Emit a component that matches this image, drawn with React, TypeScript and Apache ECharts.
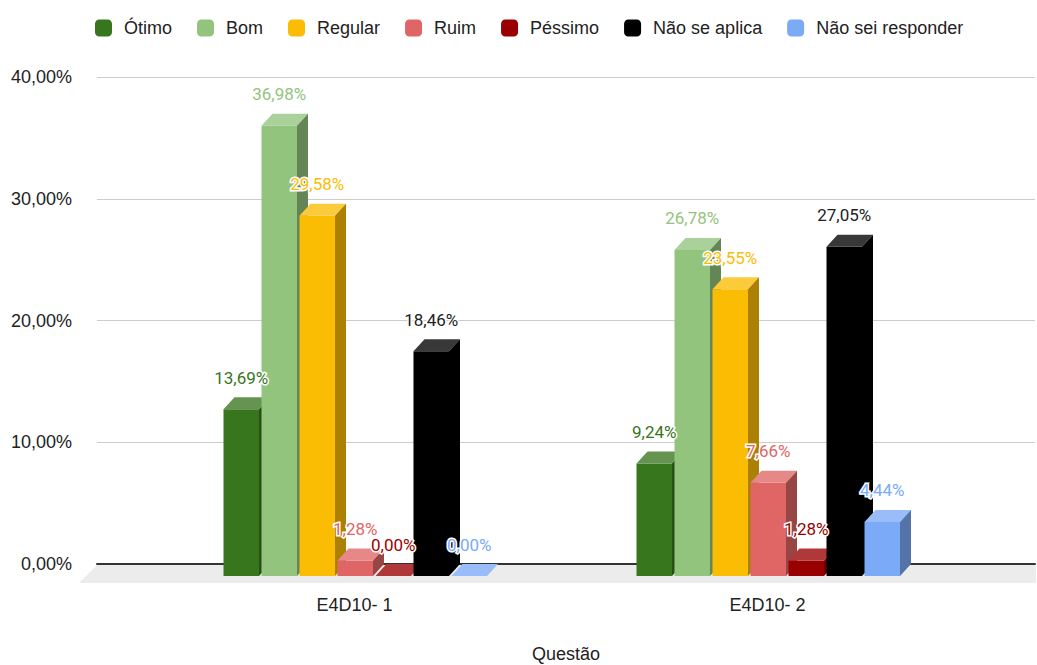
import React, { useEffect, useRef } from "react";
import * as echarts from "echarts";

const categories = ["E4D10- 1", "E4D10- 2"];
const seriesNames = ["Ótimo", "Bom", "Regular", "Ruim", "Péssimo", "Não se aplica", "Não sei responder"];
const seriesColors = ["#38761d", "#93c47d", "#fbbc04", "#e06666", "#990000", "#000000", "#7baaf7"];
const otimo = [13.69, 9.24];
const bom = [36.98, 26.78];
const regular = [29.58, 23.55];
const ruim = [1.28, 7.66];
const pessimo = [0.0, 1.28];
const naoSeAplica = [18.46, 27.05];
const naoSeiResponder = [0.0, 4.44];
const seriesValues = [otimo, bom, regular, ruim, pessimo, naoSeAplica, naoSeiResponder];
const yTicks = { min: 0, max: 40, interval: 10 };

function hexToRgb(h: string) {
  const n = parseInt(h.slice(1), 16);
  return [(n >> 16) & 255, (n >> 8) & 255, n & 255];
}
function lighten(h: string, t: number) {
  const [r, g, b] = hexToRgb(h);
  const f = (c: number) => Math.round(c + (255 - c) * t);
  return `rgb(${f(r)},${f(g)},${f(b)})`;
}
function darken(h: string, t: number) {
  const [r, g, b] = hexToRgb(h);
  const f = (c: number) => Math.round(c * t);
  return `rgb(${f(r)},${f(g)},${f(b)})`;
}
const fmt = (v: number) => v.toFixed(2).replace(".", ",") + "%";

export default function App() {
  const ref = useRef<HTMLDivElement>(null);
  useEffect(() => {
    document.body.style.margin = "0";
    const chart = echarts.init(ref.current!, null, { renderer: "svg" });
    const W = 35.5;
    const PITCH = 38;
    const OFF = -131;
    const DX = 11;
    const DY = 12;

    const series: any[] = seriesNames.map((name, si) => {
      const color = seriesColors[si];
      const top = lighten(color, 0.22);
      const side = darken(color, 0.68);
      return {
        type: "custom",
        name,
        xAxisIndex: 1,
        yAxisIndex: 1,
        itemStyle: { color },
        data: seriesValues[si].map((v, ci) => [ci, v]),
        renderItem: (params: any, api: any) => {
          const ci = api.value(0);
          const v = api.value(1);
          const p = api.coord([ci, v]);
          const p0 = api.coord([ci, 0]);
          const x0 = p[0] + OFF + PITCH * si;
          const yf = p[1] + DY;
          const yfb = p0[1] + DY;
          return {
            type: "group",
            children: [
              {
                type: "polygon",
                shape: { points: [[x0, yf], [x0 + W, yf], [x0 + W, yfb], [x0, yfb]] },
                style: { fill: color },
              },
              {
                type: "polygon",
                shape: { points: [[x0, yf], [x0 + DX, yf - DY], [x0 + W + DX, yf - DY], [x0 + W, yf]] },
                style: { fill: top },
              },
              {
                type: "polygon",
                shape: { points: [[x0 + W, yf], [x0 + W + DX, yf - DY], [x0 + W + DX, yfb - DY], [x0 + W, yfb]] },
                style: { fill: side },
              },
              {
                type: "text",
                z2: 100,
                x: x0 + W / 2,
                y: p[1] - 19.5,
                style: {
                  text: fmt(v),
                  fill: color === "#000000" ? "#222222" : color,
                  stroke: "#ffffff",
                  lineWidth: 3,
                  align: "center",
                  verticalAlign: "middle",
                  font: "17px Roboto",
                },
              },
            ],
          };
        },
      };
    });

    chart.setOption({
      animation: false,
      backgroundColor: "#ffffff",
      legend: {
        data: seriesNames,
        left: 90,
        top: 14,
        icon: "roundRect",
        itemWidth: 17,
        itemHeight: 17,
        itemGap: 25,
        textStyle: {
          fontFamily: "Liberation Sans, Arial",
          fontSize: 18,
          color: "#222222",
          padding: [0, 0, 0, 7],
        },
      },
      graphic: [
        {
          type: "polygon",
          z: -10,
          shape: { points: [[97, 565], [1036, 565], [1036, 583], [79, 583]] },
          style: { fill: "#ececec" },
        },
      ],
      grid: [
        { left: 97, right: 2, top: 77, bottom: 101, outerBoundsMode: "none", containLabel: false },
        { left: 148, right: 63, top: 77, bottom: 101, outerBoundsMode: "none", containLabel: false },
      ],
      xAxis: [
        {
          type: "value",
          gridIndex: 0,
          min: 0,
          max: 1,
          axisLabel: { show: false },
          axisTick: { show: false },
          splitLine: { show: false },
          axisLine: { show: true, lineStyle: { color: "#333333", width: 2 } },
          name: "Questão",
          nameLocation: "middle",
          nameGap: 81,
          nameTextStyle: { fontFamily: "Liberation Sans, Arial", fontSize: 18, color: "#222222", lineHeight: 18 },
        },
        {
          type: "category",
          gridIndex: 1,
          data: categories,
          axisLine: { show: false },
          axisTick: { show: false },
          axisLabel: {
            margin: 32,
            fontFamily: "Liberation Sans, Arial",
            fontSize: 18,
            color: "#222222",
          },
        },
      ],
      yAxis: [
        {
          type: "value",
          gridIndex: 0,
          min: yTicks.min,
          max: yTicks.max,
          interval: yTicks.interval,
          axisLine: { show: false },
          axisTick: { show: false },
          axisLabel: {
            margin: 25,
            formatter: (v: number) => fmt(v),
            fontFamily: "Liberation Sans, Arial",
            fontSize: 18,
            color: "#222222",
          },
          splitLine: { lineStyle: { color: "#cccccc", width: 1 } },
        },
        {
          type: "value",
          gridIndex: 1,
          min: yTicks.min,
          max: yTicks.max,
          interval: yTicks.interval,
          show: false,
          splitLine: { show: false },
        },
      ],
      series,
    });
    return () => chart.dispose();
  }, []);
  return <div ref={ref} style={{ width: 1037, height: 665 }} />;
}
